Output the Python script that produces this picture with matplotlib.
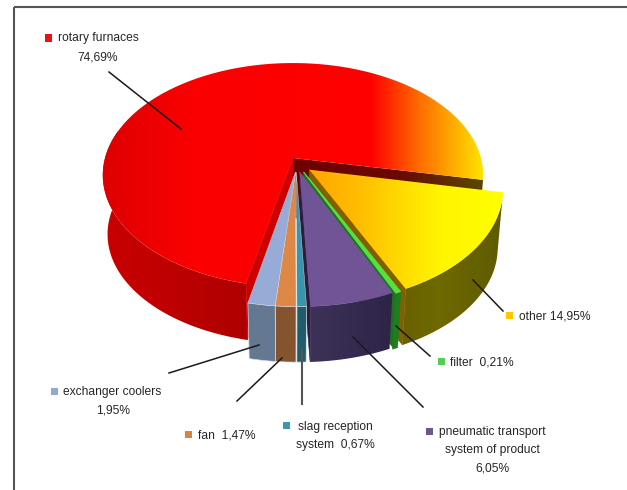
import numpy as np
import matplotlib
matplotlib.use("Agg")
import matplotlib.pyplot as plt
from matplotlib.patches import Polygon, Rectangle

# ---- data
categories = ["other", "filter", "pneumatic transport system of product",
              "slag reception system", "fan", "exchanger coolers", "rotary furnaces"]
shares = [14.95, 0.21, 6.05, 0.67, 1.47, 1.95, 74.69]
labels = [["other 14,95%"], ["filter  0,21%"],
          ["pneumatic transport", "system of product", "6,05%"],
          ["slag reception", "system  0,67%"], ["fan  1,47%"],
          ["exchanger coolers", "1,95%"], ["rotary furnaces", "74,69%"]]

# ---- style / projection
plt.rcParams['font.family'] = ['Liberation Sans', 'DejaVu Sans']
FS = 8.65
TXT = '#262626'
START = 101.2
CX, CY, RX, RY, P, Q, H = 293, 158, 188, 109.4, 0.152, 0.025, 60

fig = plt.figure(figsize=(6.27, 4.90), dpi=100)
ax = fig.add_axes([0, 0, 1, 1])
ax.set_xlim(0, 627); ax.set_ylim(490, 0); ax.axis('off')


def proj(X, Y, bottom=False):
    w = 1 + P * Y + (Q if bottom else 0)
    return CX + RX * X / w, CY - RY * Y / w + (H if bottom else 0)


def arc(a0, a1, off, bottom=False, n=90):
    t = np.radians(np.linspace(a0, a1, n))
    sx, sy = proj(np.sin(t) + off[0], np.cos(t) + off[1], bottom)
    return np.column_stack([sx, sy])


def apex(off, bottom=False):
    return np.array([proj(off[0], off[1], bottom)])


def grad_fill(pts, xs, cols, z):
    xs = np.array(xs, float)
    cols = np.array(cols, float) / 255
    x0, x1 = pts[:, 0].min() - 1, pts[:, 0].max() + 1
    y0, y1 = pts[:, 1].min() - 1, pts[:, 1].max() + 1
    g = np.linspace(x0, x1, 300)
    img = np.stack([np.interp(g, xs, cols[:, i]) for i in range(3)], axis=-1)[None, :, :]
    pg = Polygon(pts, closed=True, fc='none', ec='none', zorder=z)
    ax.add_patch(pg)
    im = ax.imshow(img, extent=[x0, x1, y1, y0], aspect='auto', zorder=z, interpolation='bilinear')
    im.set_clip_path(pg)


def flat(pts, col, z, ec=None, lw=0.4):
    ax.add_patch(Polygon(pts, closed=True, fc=np.array(col) / 255, ec=(ec if ec else np.array(col) / 255),
                         lw=lw, zorder=z))


def cut(a, off):
    t = arc(a, a, off, n=1)
    b = arc(a, a, off, True, n=1)
    return np.vstack([apex(off), t, b, apex(off, True)])


def side(a0, a1, off):
    return np.vstack([arc(a0, a1, off), arc(a0, a1, off, True)[::-1]])


def top(a0, a1, off):
    return np.vstack([apex(off), arc(a0, a1, off)])


# angle ranges derived from the shares
edges = START + np.cumsum([0] + [s * 3.6 for s in shares])
A = {c: (edges[i], edges[i + 1]) for i, c in enumerate(categories)}

# explosion offsets
OFF = {"other": (0.085, -0.105), "filter": (0.055, -0.125),
       "pneumatic transport system of product": (0.035, -0.125),
       "slag reception system": (0.017, -0.125), "fan": (0.013, -0.125),
       "exchanger coolers": (0.013, -0.125), "rotary furnaces": (0.0, 0.0)}

# --- rotary furnaces
a0, a1 = A["rotary furnaces"]
o = OFF["rotary furnaces"]
grad_fill(cut(START, o), [295, 400, 481], [(112, 0, 0), (105, 10, 0), (90, 70, 0)], 2)
grad_fill(side(a0, 285, o), [103, 160, 245], [(200, 0, 0), (192, 0, 0), (175, 0, 0)], 3)
flat(cut(a0, o), (205, 0, 0), 3)
grad_fill(top(a0, a1, o), [103, 190, 370, 420, 481],
          [(222, 0, 0), (250, 0, 0), (255, 0, 0), (255, 110, 0), (255, 225, 0)], 4)

# --- other
a0, a1 = A["other"]
o = OFF["other"]
flat(cut(a1, o), (130, 95, 0), 6)
grad_fill(side(a0, a1, o), [395, 440, 505], [(105, 95, 0), (110, 105, 0), (95, 90, 0)], 7)
grad_fill(top(a0, a1, o), [310, 360, 440, 505],
          [(255, 165, 0), (255, 190, 0), (255, 245, 0), (255, 255, 0)], 8)

# --- filter
a0, a1 = A["filter"]
o = OFF["filter"]
flat(cut(a1, o), (35, 110, 35), 9)
flat(side(a0 - 0.4, a1 + 0.4, o), (30, 125, 30), 10)
flat(top(a0 - 0.3, a1 + 0.3, o), (85, 225, 65), 11, lw=0.8)

# --- pneumatic transport
a0, a1 = A["pneumatic transport system of product"]
o = OFF["pneumatic transport system of product"]
flat(cut(a1, o), (45, 30, 65), 12)
grad_fill(side(a0, a1, o), [308, 392], [(62, 50, 88), (45, 36, 72)], 13)
flat(top(a0, a1, o), (113, 84, 150), 14)

# --- narrow front slices
small = {"slag reception system": ((58, 148, 170), (32, 92, 108)),
         "fan": ((222, 136, 72), (132, 84, 46)),
         "exchanger coolers": ((150, 172, 215), (100, 120, 145))}
for i, name in enumerate(small):
    a0, a1 = A[name]
    o = OFF[name]
    tc, sc = small[name]
    z = 15 + 2 * i
    flat(side(a0, a1, o), sc, z, ec='#d8dde6', lw=0.5)
    flat(top(a0, a1, o), tc, z + 1, ec='#d8dde6', lw=0.3)

# --- frame
ax.plot([13.5, 13.5], [490, 7.5], color='#555555', lw=1.5, zorder=1, solid_capstyle='butt')
ax.plot([13.5, 627], [7.5, 7.5], color='#555555', lw=1.5, zorder=1, solid_capstyle='butt')

# --- leaders
leaders = [((109, 72), (181, 129), '#1a1a1a', 1.1), ((473, 280), (503, 311), '#1a1a1a', 1.1),
           ((396, 326), (430, 356), '#1a1a1a', 1.1), ((353, 337), (423, 407), '#1a1a1a', 1.1),
           ((169, 373), (259, 345), '#1a1a1a', 1.1), ((237, 401), (282, 358), '#1a1a1a', 1.1),
           ((302, 404), (302, 349), '#555555', 1.5)]
for p0, p1, c, lw in leaders:
    ax.plot([p0[0], p1[0]], [p0[1], p1[1]], color=c, lw=lw, zorder=30)

# --- legends: marker centre, colour, (x, y, ha) of each line
layout = {
    "rotary furnaces": ((48, 38), '#ee1111', [(58, 38, 'left'), (98, 57, 'center')]),
    "other": ((509, 315), '#ffc800', [(519, 316, 'left')]),
    "filter": ((441, 361), '#55cc55', [(450, 362, 'left')]),
    "pneumatic transport system of product": ((429.5, 431), '#6f5590',
                                              [(439, 432, 'left'), (492, 450, 'center'), (492, 468, 'center')]),
    "exchanger coolers": ((54, 391), '#93a9d1', [(63, 392, 'left'), (113, 410, 'center')]),
    "fan": ((188, 434), '#d9833f', [(198, 435, 'left')]),
    "slag reception system": ((286, 425), '#3f97ad', [(298, 427, 'left'), (335, 445, 'center')]),
}
for c, lines in zip(categories, labels):
    (mx, my), col, pos = layout[c]
    ax.add_patch(Rectangle((mx - 3.5, my - 3.5), 7, 7.5, fc=col, ec='none', zorder=31))
    for s, (x, y, ha) in zip(lines, pos):
        ax.text(x, y, s, ha=ha, va='center', fontsize=FS, color=TXT, zorder=32)

ax.set_xlim(0, 627); ax.set_ylim(490, 0)
fig.savefig("out.png", dpi=100, facecolor='white')
